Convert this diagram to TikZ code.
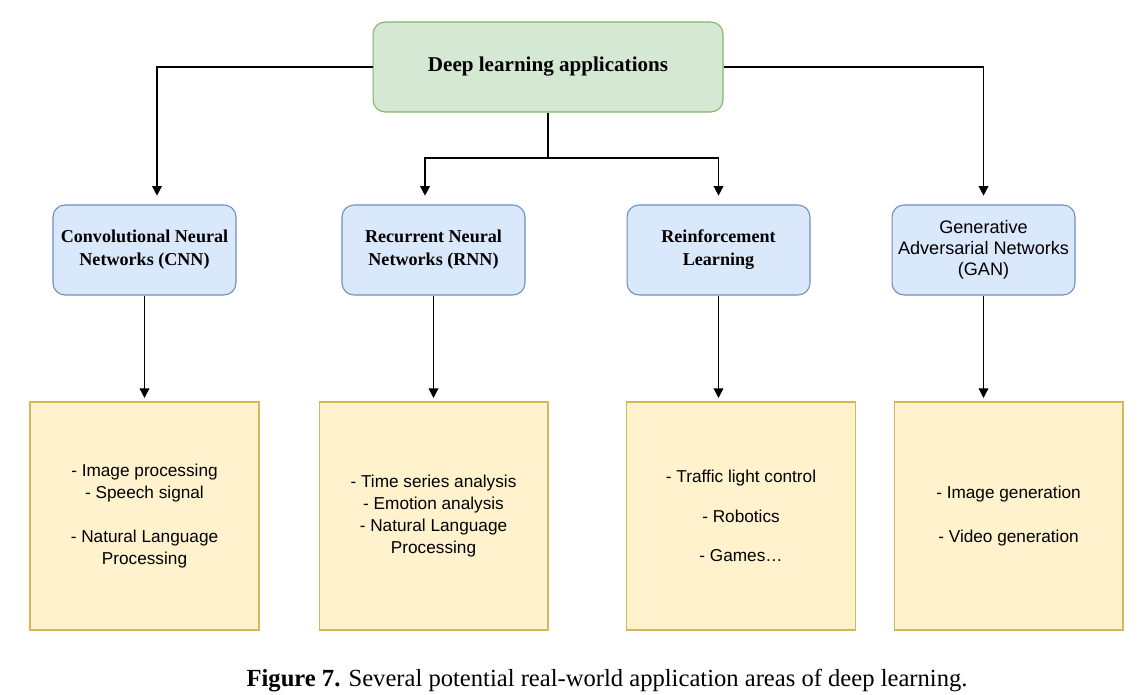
\documentclass[tikz,border=0pt]{standalone}
\usepackage{fontspec}
\setmainfont{Liberation Serif}
\setsansfont{Liberation Sans}
\usetikzlibrary{arrows.meta}

\definecolor{topfill}{HTML}{D5E8D4}
\definecolor{topline}{HTML}{82B366}
\definecolor{netfill}{HTML}{DAE8FC}
\definecolor{netline}{HTML}{6C8EBF}
\definecolor{appfill}{HTML}{FFF2CC}
\definecolor{appline}{HTML}{D6B656}

\tikzset{
 topbox/.style={draw=topline, fill=topfill, line width=0.6pt, rounded corners=0.24cm,
  minimum width=7cm, minimum height=1.8cm, font=\bfseries\fontsize{12}{14}\selectfont},
 netbox/.style={draw=netline, fill=netfill, line width=0.6pt, rounded corners=0.24cm,
  minimum width=3.66cm, minimum height=1.8cm, align=center,
  font=\bfseries\fontsize{10.3}{13}\selectfont},
 appbox/.style={draw=appline, fill=appfill, line width=0.6pt,
  minimum width=4.58cm, minimum height=4.56cm, align=center,
  font=\sffamily\fontsize{9.8}{12.5}\selectfont},
 link/.style={-{Triangle[length=5.5pt,width=5.5pt]}, line width=0.85pt}
}

\begin{document}
\begin{tikzpicture}[x=0.02cm, y=-0.02cm]
 \useasboundingbox (0,0) rectangle (1138,695);

 \node [topbox] (top) at (548, 67) {Deep learning applications};

 \node [netbox] (cnn) at (144.5, 250) {Convolutional Neural\\Networks (CNN)};
 \node [netbox] (rnn) at (433.5, 250) {Recurrent Neural\\Networks (RNN)};
 \node [netbox] (rl) at (718.5, 250) {Reinforcement\\Learning};
 \node [netbox, font=\sffamily\fontsize{10.3}{12}\selectfont] (gan) at (983.5, 250)
  {Generative\\Adversarial Networks\\(GAN)};

 \node [appbox] (cnnapp) at (144.5, 516)
  {- Image processing\\ - Speech signal\\[12.5pt] - Natural Language\\Processing};
 \node [appbox] (rnnapp) at (433.5, 516)
  {- Time series analysis\\ - Emotion analysis\\ - Natural Language\\Processing};
 \node [appbox, font=\sffamily\fontsize{9.8}{22.5}\selectfont] (rlapp) at (741, 516)
  {- Traffic light control\\ - Robotics\\ - Games\dots};
 \node [appbox, font=\sffamily\fontsize{9.8}{25}\selectfont] (ganapp) at (1008.5, 516)
  {- Image generation\\ - Video generation};

 \coordinate (split) at (548, 158);
 \draw[link, shorten >=5pt] (top.west) -| ([xshift=0.25cm]cnn.north);
 \draw[link, shorten >=5pt] (top.east) -| (gan.north);
 \draw[line width=0.85pt] (top.south) -- (split);
 \draw[link, shorten >=5pt] (split) -| ([xshift=-0.17cm]rnn.north);
 \draw[link, shorten >=5pt] (split) -| (rl.north);

 \draw[link, shorten >=2pt] (cnn.south) -- (cnnapp.north);
 \draw[link, shorten >=2pt] (rnn.south) -- (rnnapp.north);
 \draw[link, shorten >=2pt] (rl.south) -- (rl.south |- rlapp.north);
 \draw[link, shorten >=2pt] (gan.south) -- (gan.south |- ganapp.north);

 \node [font=\fontsize{14}{16}\selectfont] (caption) at (607, 681)
  {\textbf{Figure 7.} Several potential real-world application areas of deep learning.};
\end{tikzpicture}
\end{document}
